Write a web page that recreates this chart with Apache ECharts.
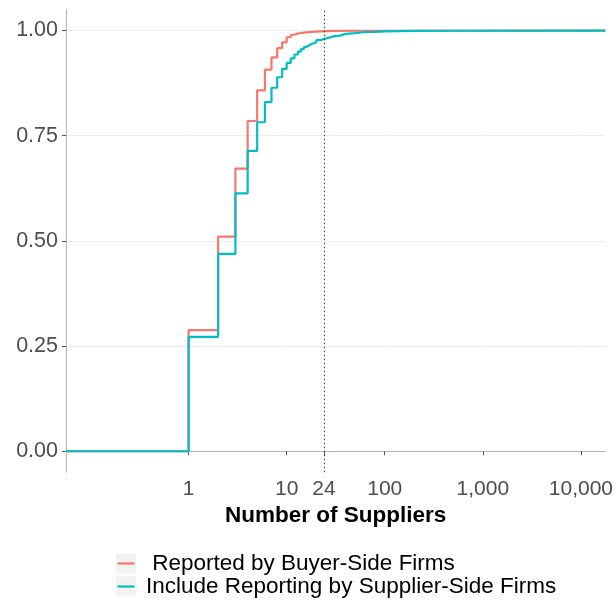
<!DOCTYPE html>
<html>
<head>
<meta charset="utf-8">
<script src="https://cdn.jsdelivr.net/npm/echarts@6/dist/echarts.min.js"></script>
<style>
  html, body { margin: 0; padding: 0; background: #ffffff; }
  #chart { width: 616px; height: 601px; }
</style>
</head>
<body>
<div id="chart"></div>
<script>
// ---- data ----
const seriesNames = [' Reported by Buyer-Side Firms', 'Include Reporting by Supplier-Side Firms'];
const seriesColors = ['#F8766D', '#00BFC4'];

// ECDF of number of suppliers reported by buyer-side firms
const buyerX = [1, 2, 3, 4, 5, 6, 7, 8, 9, 10, 11, 12, 13, 15, 18, 22, 30, 60];
const buyerY = [0.288, 0.510, 0.672, 0.785, 0.858, 0.907, 0.936, 0.958, 0.972, 0.984, 0.990, 0.993, 0.995, 0.997, 0.998, 0.999, 0.9995, 1.0];

// ECDF including reporting by supplier-side firms
const supplierX = [1, 2, 3, 4, 5, 6, 7, 8, 9, 10, 11, 12, 13, 14, 15, 16, 17, 18, 20, 22, 24, 27, 30, 35, 40, 50, 60, 80, 100, 200, 500];
const supplierY = [0.272, 0.469, 0.613, 0.714, 0.782, 0.830, 0.864, 0.889, 0.909, 0.923, 0.934, 0.943, 0.950, 0.956, 0.961, 0.965, 0.968, 0.972, 0.977, 0.980, 0.983, 0.986, 0.988, 0.992, 0.994, 0.996, 0.997, 0.998, 0.999, 0.9995, 1.0];

// axis range (log scale, data 0.1..10000 with 5% expansion) and ticks
const xMin = 0.0562;
const xMax = 17783;
const xTicks = [1, 10, 24, 100, 1000, 10000];
const yTicks = [0, 0.25, 0.5, 0.75, 1];
const refLineX = 24;

function ecdfPairs(xs, ys) {
  const pts = [[xMin, 0]];
  for (let i = 0; i < xs.length; i++) pts.push([xs[i], ys[i]]);
  pts.push([xMax, 1]);
  return pts;
}

const FONT = "'Liberation Sans', Arial, sans-serif";
const chart = echarts.init(document.getElementById('chart'), null, { renderer: 'canvas' });

const legendBase = {
  orient: 'vertical',
  left: 116,
  top: 552,
  padding: 0,
  itemGap: 0,
  selectedMode: false,
  textStyle: { fontFamily: FONT, fontSize: 22.5, lineHeight: 20, color: '#000000', padding: [0, 0, 0, 5] }
};

chart.setOption({
  animation: false,
  backgroundColor: '#ffffff',
  grid: { left: 66, right: 10, top: 9.5, bottom: 128.7, containLabel: false },
  legend: [
    Object.assign({}, legendBase, {
      icon: 'rect', itemWidth: 20, itemHeight: 20,
      data: seriesNames.map(n => ({ name: n, itemStyle: { color: '#f2f2f2' } }))
    }),
    Object.assign({}, legendBase, {
      left: 117.5,
      icon: 'rect', itemWidth: 17, itemHeight: 2.2,
      textStyle: Object.assign({}, legendBase.textStyle, { color: 'rgba(0,0,0,0)' }),
      data: seriesNames.map((n, i) => ({ name: n, itemStyle: { color: seriesColors[i] } }))
    })
  ],
  xAxis: {
    type: 'log',
    logBase: 10,
    min: xMin,
    max: xMax,
    z: 1,
    name: 'Number of Suppliers',
    nameLocation: 'middle',
    nameGap: 31,
    nameTextStyle: { fontFamily: FONT, fontSize: 22.5, fontWeight: 'bold', color: '#000000' },
    axisLine: { show: true, lineStyle: { color: '#b3b3b3', width: 1 } },
    axisTick: { show: true, length: 4, lineStyle: { color: '#555555' }, customValues: xTicks },
    axisLabel: {
      customValues: xTicks,
      fontFamily: FONT, fontSize: 21, color: '#4d4d4d', margin: 6,
      formatter: v => Math.round(v).toLocaleString('en-US')
    },
    splitLine: { show: true, lineStyle: { color: '#ffffff', width: 1.5 } },
    minorSplitLine: { show: false }
  },
  yAxis: {
    type: 'value',
    min: -0.05,
    max: 1.05,
    z: 0,
    axisLine: { show: true, lineStyle: { color: '#b3b3b3', width: 1 } },
    axisTick: { show: true, length: 4, lineStyle: { color: '#555555' }, customValues: yTicks },
    axisLabel: {
      customValues: yTicks,
      fontFamily: FONT, fontSize: 21.5, color: '#4d4d4d', margin: 8,
      formatter: v => v.toFixed(2)
    },
    splitLine: { show: true, lineStyle: { color: '#ebebeb', width: 1 } }
  },
  series: [
    {
      name: seriesNames[0],
      type: 'line',
      step: 'end',
      showSymbol: false,
      symbol: 'none',
      data: ecdfPairs(buyerX, buyerY),
      lineStyle: { color: seriesColors[0], width: 2.2 },
      itemStyle: { color: seriesColors[0] },
      z: 2,
      markLine: {
        silent: true,
        symbol: ['none', 'none'],
        label: { show: false },
        lineStyle: { color: '#444444', type: [1.5, 2.5], width: 1.2 },
        data: [{ xAxis: refLineX }]
      }
    },
    {
      name: seriesNames[1],
      type: 'line',
      step: 'end',
      showSymbol: false,
      symbol: 'none',
      data: ecdfPairs(supplierX, supplierY),
      lineStyle: { color: seriesColors[1], width: 2.2 },
      itemStyle: { color: seriesColors[1] },
      z: 3
    }
  ]
});
</script>
</body>
</html>
